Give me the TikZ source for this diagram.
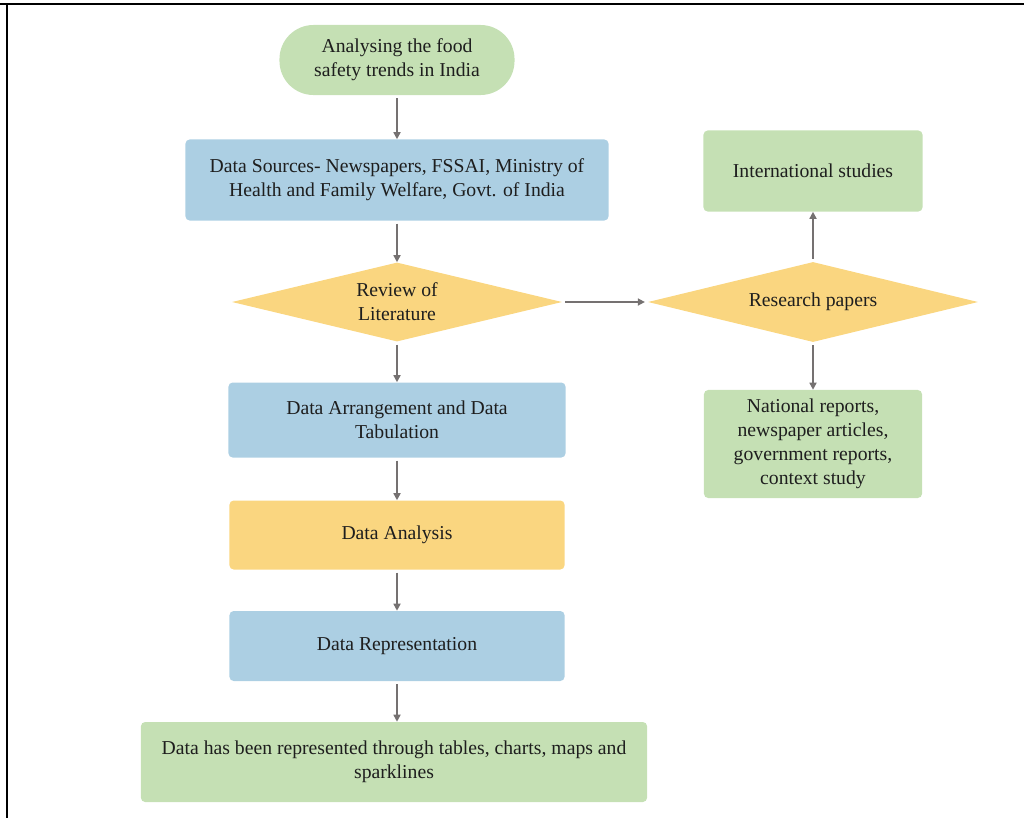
\documentclass[tikz,border=0pt]{standalone}
\usepackage{fontspec}
\setmainfont{Liberation Serif}
\usetikzlibrary{shapes.geometric,arrows.meta}
\definecolor{boxgreen}{RGB}{197,224,180}
\definecolor{boxblue}{RGB}{172,207,227}
\definecolor{boxyellow}{RGB}{250,214,128}
\definecolor{arrowgray}{RGB}{117,113,113}
\definecolor{txtdark}{RGB}{30,30,30}
\begin{document}
\begin{tikzpicture}[x=0.025cm,y=-0.025cm,
  font=\fontsize{14}{17}\selectfont, text=txtdark,
  box/.style={rectangle,rounded corners=3pt,align=center,inner sep=2pt},
  greenbox/.style={box,fill=boxgreen},
  bluebox/.style={box,fill=boxblue},
  yellowbox/.style={box,fill=boxyellow},
  decision/.style={diamond,fill=boxyellow,align=center,inner sep=0pt,shape aspect=4.2},
  flow/.style={-{Triangle[length=5pt,width=5pt]},draw=arrowgray,line width=1.1pt,shorten <=2pt}]
  \useasboundingbox (0,0) rectangle (1024,818);
  % frame
  \draw[line width=1.4pt] (0,4) -- (1024,4) (7,4) -- (7,818);
  % main column
  \node[greenbox,rounded corners=0.85cm,minimum width=5.875cm,minimum height=1.75cm] (start) at (397,60) {Analysing the food\\safety trends in India};
  \node[bluebox,minimum width=10.575cm,minimum height=2.025cm] (sources) at (397,180) {Data Sources- Newspapers, FSSAI, Ministry of\\Health and Family Welfare, Govt. of India};
  \node[decision,minimum width=8.25cm,minimum height=1.975cm] (review) at (397,302) {Review of\\Literature};
  \node[bluebox,minimum width=8.425cm,minimum height=1.875cm] (arrange) at (397,420) {Data Arrangement and Data\\Tabulation};
  \node[yellowbox,minimum width=8.375cm,minimum height=1.725cm] (analysis) at (397,535) {Data Analysis};
  \node[bluebox,minimum width=8.375cm,minimum height=1.75cm] (repr) at (397,646) {Data Representation};
  \node[greenbox,minimum width=12.65cm,minimum height=2cm] (result) at (394,762) {Data has been represented through tables, charts, maps and\\sparklines};
  % side branch
  \node[greenbox,minimum width=5.475cm,minimum height=2.025cm] (intl) at (813,171) {International studies};
  \node[decision,minimum width=8.25cm,minimum height=2cm] (papers) at (813,302) {Research papers};
  \node[greenbox,minimum width=5.45cm,minimum height=2.7cm] (natl) at (813,444) {National reports,\\newspaper articles,\\government reports,\\context study};
  % arrows
  \draw[flow] (start) -- (sources);
  \draw[flow] (sources) -- (review);
  \draw[flow] (review) -- (arrange);
  \draw[flow] (arrange) -- (analysis);
  \draw[flow] (analysis) -- (repr);
  \draw[flow] (repr) -- (repr |- result.north);
  \draw[flow,shorten >=2pt] (review) -- (papers);
  \draw[flow] (papers) -- (intl);
  \draw[flow] (papers) -- (natl);
\end{tikzpicture}
\end{document}
